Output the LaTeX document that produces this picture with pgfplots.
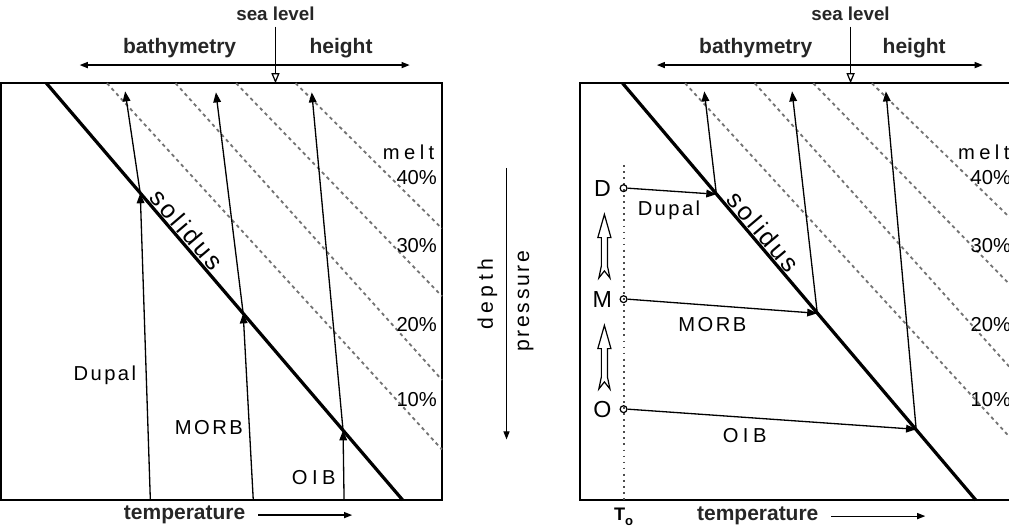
\documentclass[border=0pt]{standalone}
\usepackage{fontspec}
\setmainfont{Liberation Sans}
\newfontfamily\spaced[LetterSpace=12]{Liberation Sans}
\newfontfamily\wide[LetterSpace=22]{Liberation Sans}
\usepackage{pgfplots}
\pgfplotsset{compat=1.18}
\usetikzlibrary{arrows.meta}

\tikzset{
  tip/.style={-{Triangle[length=5pt,width=3.8pt]}},
  path/.style={line width=0.65pt, black, tip},
  melt/.style={black!55, line width=0.9pt, dash pattern=on 1.7pt off 1.7pt},
  lab/.style={font=\bfseries\fontsize{10.4}{12}\selectfont, text=black!85},
}

\begin{document}
\begin{tikzpicture}
\begin{axis}[
  scale only axis,
  width=504.5pt, height=263.5pt,
  xmin=0, xmax=1009, ymin=0, ymax=527,
  y dir=reverse,
  hide axis,
  clip=true,
]
% ---------------- left panel ----------------
\addplot[black, line width=1pt] coordinates {(10,84) (447,84) (447,497) (10,497)} -- cycle;
\addplot[black, line width=1.6pt] coordinates {(55,84) (408,497)};
\addplot[melt] coordinates {(115,84) (447,447)};
\addplot[melt] coordinates {(183,84) (447,378)};
\addplot[melt] coordinates {(243,84) (447,295)};
\addplot[melt] coordinates {(302,84) (447,228)};
% adiabatic paths
\addplot[path] coordinates {(158,497) (148,193)};
\addplot[path] coordinates {(148,193) (133,92)};
\addplot[path] coordinates {(260,497) (250,312)};
\addplot[path] coordinates {(250,312) (223,93)};
\addplot[path] coordinates {(350,497) (349,428)};
\addplot[path] coordinates {(349,428) (318,93)};
% top and bottom annotations
\addplot[black, line width=0.6pt, -{Triangle[open,length=5pt,width=4pt]}] coordinates {(282,28) (282,84)};
\addplot[black, line width=0.6pt, {Triangle[length=4pt,width=3pt]}-{Triangle[length=4pt,width=3pt]}] coordinates {(88,66) (415,66)};
\addplot[black, line width=0.6pt, -{Triangle[length=4pt,width=3pt]}] coordinates {(265,512) (358,512)};

\node[lab, font=\bfseries\fontsize{9.3}{11}\selectfont] at (282,15) {sea level};
\node[lab] at (187,49) {bathymetry};
\node[lab] at (347,49) {height};
\node[lab] at (192,512) {temperature};
\node[font=\spaced\fontsize{10}{12}\selectfont] at (113,373) {Dupal};
\node[font=\spaced\fontsize{10}{12}\selectfont] at (216,425) {MORB};
\node[font=\wide\fontsize{10}{12}\selectfont] at (320,475) {OIB};
\node[font=\spaced\fontsize{12.5}{14}\selectfont, rotate=-49.5, anchor=south, inner sep=1pt] at (185.4,236.5) {solidus};
\node[font=\wide\fontsize{10}{12}\selectfont] at (414,152) {melt};
\node[font=\fontsize{10}{12}\selectfont] at (422,177) {40\%};
\node[font=\fontsize{10}{12}\selectfont] at (422,245) {30\%};
\node[font=\fontsize{10}{12}\selectfont] at (422,323) {20\%};
\node[font=\fontsize{10}{12}\selectfont] at (422,397) {10\%};

% ---------------- depth axis between panels ----------------
\addplot[black, line width=0.6pt, -{Triangle[length=4pt,width=3pt]}] coordinates {(511,168) (511,437)};
\node[font=\wide\fontsize{10.5}{12}\selectfont, rotate=90] at (492,293) {depth};
\node[font=\spaced\fontsize{10.5}{12}\selectfont, rotate=90] at (530,300) {pressure};

% ---------------- right panel ----------------
\addplot[black, line width=1pt] coordinates {(1030,84) (584,84) (584,497) (1030,497)};
\addplot[black, line width=1.6pt] coordinates {(626,84) (976,497)};
\addplot[melt] coordinates {(688,84) (1021,447)};
\addplot[melt] coordinates {(757,84) (1021,378)};
\addplot[melt] coordinates {(815,84) (1021,295)};
\addplot[melt] coordinates {(873,84) (1021,228)};
% initial temperature
\addplot[black!70, line width=1pt, dash pattern=on 0.9pt off 2.1pt] coordinates {(627,165) (627,497)};
\addplot[black, only marks, mark=o, mark size=1.7pt, mark options={line width=0.6pt}] coordinates {(627,188) (627,298) (627,407)};
% heating to solidus, then ascent
\addplot[path] coordinates {(631,188) (719,194)};
\addplot[path] coordinates {(719,194) (707,92)};
\addplot[path] coordinates {(631,298) (819,312)};
\addplot[path] coordinates {(819,312) (794,92)};
\addplot[path] coordinates {(631,407) (917,427)};
\addplot[path] coordinates {(917,427) (887,92)};
% hollow arrows O -> M -> D
\addplot[black, line width=0.6pt, fill=white] coordinates {(608,214) (614.5,237) (611,237) (611,265) (613.5,277) (608,270) (602.5,277) (605,265) (605,237) (601.5,237)} -- cycle;
\addplot[black, line width=0.6pt, fill=white] coordinates {(608,324) (614.5,347) (611,347) (611,375) (613.5,387) (608,380) (602.5,387) (605,375) (605,347) (601.5,347)} -- cycle;

\addplot[black, line width=0.6pt, -{Triangle[open,length=5pt,width=4pt]}] coordinates {(852,28) (852,84)};
\addplot[black, line width=0.6pt, {Triangle[length=4pt,width=3pt]}-{Triangle[length=4pt,width=3pt]}] coordinates {(660,66) (983,66)};
\addplot[black, line width=0.6pt, -{Triangle[length=4pt,width=3pt]}] coordinates {(833,513) (926,513)};

\node[lab, font=\bfseries\fontsize{9.3}{11}\selectfont] at (852,15) {sea level};
\node[lab] at (758,49) {bathymetry};
\node[lab] at (915,49) {height};
\node[lab] at (760,513) {temperature};
\node[font=\bfseries\fontsize{9}{11}\selectfont] at (627,514) {T\raisebox{-0.5ex}{\fontsize{6.5}{8}\selectfont o}};
\node[font=\fontsize{11.5}{13}\selectfont] at (606,188) {D};
\node[font=\fontsize{11.5}{13}\selectfont] at (606,298) {M};
\node[font=\fontsize{11.5}{13}\selectfont] at (606,407) {O};
\node[font=\spaced\fontsize{10}{12}\selectfont] at (672,210) {Dupal};
\node[font=\spaced\fontsize{10}{12}\selectfont] at (715,323) {MORB};
\node[font=\wide\fontsize{10}{12}\selectfont] at (747,433) {OIB};
\node[font=\spaced\fontsize{12.5}{14}\selectfont, rotate=-49.7, anchor=south, inner sep=1pt] at (757,238.5) {solidus};
\node[font=\wide\fontsize{10}{12}\selectfont] at (984,152) {melt};
\node[font=\fontsize{10}{12}\selectfont] at (991,177) {40\%};
\node[font=\fontsize{10}{12}\selectfont] at (991,245) {30\%};
\node[font=\fontsize{10}{12}\selectfont] at (991,323) {20\%};
\node[font=\fontsize{10}{12}\selectfont] at (991,397) {10\%};
\end{axis}
\end{tikzpicture}
\end{document}
